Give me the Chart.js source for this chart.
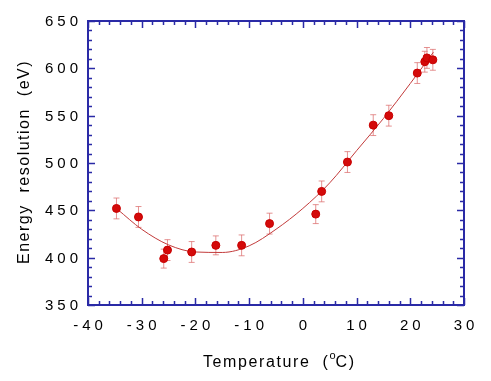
<!DOCTYPE html>
<html>
<head>
<meta charset="utf-8">
<script src="https://cdn.jsdelivr.net/npm/chart.js@4.4.0/dist/chart.umd.min.js"></script>
<style>
body{margin:0;background:#fff;}
canvas{display:block;}
</style>
</head>
<body>
<canvas id="resChart" width="491" height="381"></canvas>
<script>
// measured points
const temps = [-34.7, -30.6, -25.9, -25.2, -20.7, -16.2, -11.4, -6.2, 2.4, 3.5, 8.3, 13.1, 16.0, 21.3, 22.7, 23.1, 24.2];
const resol = [452, 443, 399, 408, 406, 413, 413, 436, 446, 470, 501, 540, 550, 595, 607, 611, 609];
const errs = [11, 11, 10, 11, 11, 10, 11, 11, 10, 11, 11, 11, 11, 11, 11, 11, 11];

// fitted curve
const fitTemps = [-34.5, -30, -25, -20, -15, -10, -5, 0, 5, 10, 15, 20, 24.3];
const fitResol = [451, 430, 413.5, 406, 405.5, 412.5, 430, 452, 479, 513, 547, 584, 617];

const xTicks = [-40, -30, -20, -10, 0, 10, 20, 30];
const yTicks = [350, 400, 450, 500, 550, 600, 650];

const axisBlue = '#2a2aa6';

const ctxEl = document.getElementById('resChart');

const pts = temps.map(function(t, i){ return {x: t, y: resol[i]}; });
const fitPts = fitTemps.map(function(t, i){ return {x: t, y: fitResol[i]}; });

const framePlugin = {
  id: 'framePlugin',
  beforeDatasetsDraw(chart) {
    const c = chart.ctx, xs = chart.scales.x, ys = chart.scales.y;
    c.save();
    c.strokeStyle = 'rgba(220,110,110,0.75)';
    c.lineWidth = 1;
    for (var i = 0; i < temps.length; i++) {
      var px = xs.getPixelForValue(temps[i]);
      var top = ys.getPixelForValue(resol[i] + errs[i]);
      var bot = ys.getPixelForValue(resol[i] - errs[i]);
      c.beginPath();
      c.moveTo(px, top); c.lineTo(px, bot);
      c.moveTo(px - 3, top); c.lineTo(px + 3, top);
      c.moveTo(px - 3, bot); c.lineTo(px + 3, bot);
      c.stroke();
    }
    c.restore();
  },
  afterDraw(chart) {
    const c = chart.ctx, xs = chart.scales.x, ys = chart.scales.y, a = chart.chartArea;
    c.save();
    c.strokeStyle = axisBlue;
    c.lineWidth = 2;
    c.strokeRect(a.left, a.top, a.right - a.left, a.bottom - a.top);
    c.lineWidth = 1.5;
    c.beginPath();
    for (var v = -40; v <= 30; v += 2) {
      var px = Math.round(xs.getPixelForValue(v)) + 0.5;
      var len = (v % 10 === 0) ? 7 : 4;
      c.moveTo(px, a.bottom); c.lineTo(px, a.bottom - len);
      c.moveTo(px, a.top); c.lineTo(px, a.top + len);
    }
    for (var w = 350; w <= 650; w += 10) {
      var py = Math.round(ys.getPixelForValue(w)) + 0.5;
      var l2 = (w % 50 === 0) ? 7 : 4;
      c.moveTo(a.left, py); c.lineTo(a.left + l2, py);
      c.moveTo(a.right, py); c.lineTo(a.right - l2, py);
    }
    c.stroke();

    // tick labels
    c.fillStyle = '#000';
    c.font = '15px "Liberation Sans", Arial, sans-serif';
    c.letterSpacing = '4px';
    c.textBaseline = 'middle';
    c.textAlign = 'center';
    xTicks.forEach(function(t){
      c.fillText(String(t), xs.getPixelForValue(t) + 2, a.bottom + 21);
    });
    c.textAlign = 'right';
    yTicks.forEach(function(t){
      c.fillText(String(t), a.left - 10 + 4, ys.getPixelForValue(t) + 1);
    });

    // axis titles
    c.font = '16px "Liberation Sans", Arial, sans-serif';
    c.letterSpacing = '1.6px';
    c.textBaseline = 'alphabetic';
    c.textAlign = 'left';
    var x0 = 203, yb = 367;
    var s1 = 'Temperature  (';
    c.fillText(s1, x0, yb);
    var w1 = c.measureText(s1).width;
    c.font = '11px "Liberation Sans", Arial, sans-serif';
    c.letterSpacing = '0px';
    c.fillText('o', x0 + w1, yb - 8);
    var w2 = c.measureText('o').width;
    c.font = '16px "Liberation Sans", Arial, sans-serif';
    c.letterSpacing = '1.6px';
    c.fillText('C)', x0 + w1 + w2, yb);

    c.translate(29, 162);
    c.rotate(-Math.PI / 2);
    c.textAlign = 'center';
    c.letterSpacing = '1.5px';
    c.fillText('Energy  resolution  (eV)', 0, 0);
    c.restore();
  }
};

new Chart(ctxEl, {
  type: 'scatter',
  data: {
    datasets: [
      {
        label: 'fit',
        type: 'line',
        data: fitPts,
        showLine: true,
        borderColor: '#c23a3a',
        borderWidth: 1,
        pointRadius: 0,
        fill: false,
        cubicInterpolationMode: 'monotone',
        order: 2
      },
      {
        label: 'data',
        data: pts,
        backgroundColor: '#d40a0a',
        borderColor: '#c80000',
        borderWidth: 1,
        pointRadius: 4,
        order: 1
      }
    ]
  },
  options: {
    responsive: false,
    animation: false,
    layout: {padding: {left: 88, right: 27, top: 21, bottom: 76}},
    plugins: {legend: {display: false}, tooltip: {enabled: false}},
    scales: {
      x: {
        type: 'linear', min: -40, max: 30,
        grid: {display: false, drawTicks: false},
        border: {display: false},
        ticks: {display: false}
      },
      y: {
        type: 'linear', min: 350, max: 650,
        grid: {display: false, drawTicks: false},
        border: {display: false},
        ticks: {display: false}
      }
    }
  },
  plugins: [framePlugin]
});
</script>
</body>
</html>
